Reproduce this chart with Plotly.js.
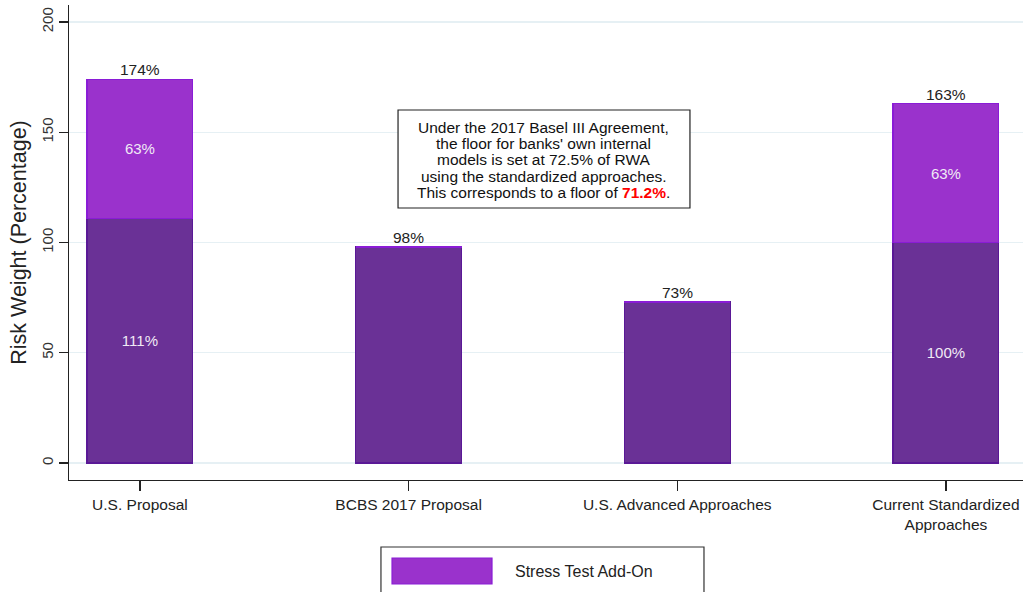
<!DOCTYPE html>
<html>
<head>
<meta charset="utf-8">
<script src="https://cdn.plot.ly/plotly-3.0.1.min.js"></script>
<style>html,body{margin:0;padding:0;background:#fff;}#chart{width:1023px;height:592px;}</style>
</head>
<body>
<div id="chart"></div>
<script>
const categories = ["U.S. Proposal", "BCBS 2017 Proposal", "U.S. Advanced Approaches", "Current Standardized<br>Approaches"];
const baseValues = [111, 98, 73, 100];
const addOnValues = [63, 0, 0, 63];
const baseLabels = ["111%", "", "", "100%"];
const addOnLabels = ["63%", "", "", "63%"];
const yTicks = [0, 50, 100, 150, 200];
const noteLines = [
  "Under the 2017 Basel III Agreement,",
  "the floor for banks' own internal",
  "models is set at 72.5% of RWA",
  "using the standardized approaches.",
  "This corresponds to a floor of <b><span style=\"color:#ff0000\">71.2%</span></b>."
];
const legendName = "Stress Test Add-On";

const FONT = "Liberation Sans, Arial, sans-serif";
const totals = baseValues.map((v, i) => v + addOnValues[i]);

const traces = [
  {
    type: "bar", x: categories, y: baseValues, name: "Base",
    showlegend: false,
    marker: {color: "#6a3196", line: {color: "#5a1896", width: 1.2}},
    text: baseLabels, textposition: "inside", insidetextanchor: "middle",
    textfont: {color: "#f0eaf5", size: 15, family: FONT},
    hoverinfo: "skip"
  },
  {
    type: "bar", x: categories, y: addOnValues, name: legendName,
    showlegend: false,
    marker: {color: "#9a32cc", line: {color: "#8a1cd6", width: 1.2}},
    text: addOnLabels, textposition: "inside", insidetextanchor: "middle",
    textfont: {color: "#f0eaf5", size: 15, family: FONT},
    hoverinfo: "skip"
  }
];

const annotations = categories.map((c, i) => ({
  x: c, y: totals[i], xref: "x", yref: "y",
  text: totals[i] + "%", showarrow: false, yanchor: "bottom", yshift: -1,
  font: {size: 15.5, color: "#222", family: FONT}
}));

// note box: one annotation per line for tight line spacing
const noteCenterX = 0.4979;
const noteTopY = 0.7411, noteLineStep = 0.0337;
noteLines.forEach((t, i) => {
  annotations.push({
    xref: "paper", yref: "paper", x: noteCenterX, y: noteTopY - i * noteLineStep,
    xanchor: "center", yanchor: "middle",
    text: t, showarrow: false, align: "center",
    font: {size: 15.5, color: "#111", family: FONT}
  });
});

annotations.push({
  xref: "paper", yref: "paper", x: 0.4654, y: -0.1916,
  xanchor: "left", yanchor: "middle",
  text: legendName, showarrow: false,
  font: {size: 16, color: "#222", family: FONT}
});

const shapes = [
  {type: "rect", xref: "paper", yref: "paper", x0: 0.3449, x1: 0.6509, y0: 0.5726, y1: 0.7789,
   line: {color: "#222", width: 1.2}, fillcolor: "#ffffff", layer: "above"},
  {type: "rect", xref: "paper", yref: "paper", x0: 0.327, x1: 0.6656, y0: -0.141, y1: -0.27,
   line: {color: "#333", width: 1.2}, fillcolor: "#ffffff", layer: "below"},
  {type: "rect", xref: "paper", yref: "paper", x0: 0.3386, x1: 0.4434, y0: -0.1642, y1: -0.2189,
   line: {color: "#8a1cd6", width: 1.2}, fillcolor: "#9a32cc"}
];

const layout = {
  width: 1023, height: 592,
  margin: {l: 69, r: 0, t: 5, b: 112},
  paper_bgcolor: "#ffffff", plot_bgcolor: "#ffffff",
  barmode: "stack", bargap: 0.606,
  font: {family: FONT, color: "#222"},
  showlegend: false,
  xaxis: {
    type: "category", range: [-0.264, 3.287],
    showline: true, linecolor: "#222", linewidth: 1.2,
    ticks: "outside", ticklen: 10, tickcolor: "#222", tickwidth: 1.2,
    tickfont: {size: 15.5, color: "#222", family: FONT},
    showgrid: false, zeroline: false, fixedrange: true
  },
  yaxis: {
    range: [-7.7, 207.7],
    tickvals: yTicks, ticktext: yTicks.map(String),
    tickangle: -90,
    showline: true, linecolor: "#222", linewidth: 1.2,
    ticks: "outside", ticklen: 9, tickcolor: "#222", tickwidth: 1.2,
    tickfont: {size: 15, color: "#333", family: FONT},
    showgrid: true, gridcolor: "#e6f0f4", gridwidth: 1.2,
    zeroline: false,
    title: {text: "Risk Weight (Percentage)", font: {size: 21.5, color: "#222", family: FONT}, standoff: 6},
    fixedrange: true
  },
  annotations: annotations,
  shapes: shapes
};

Plotly.newPlot("chart", traces, layout, {displayModeBar: false, staticPlot: true});
</script>
</body>
</html>
